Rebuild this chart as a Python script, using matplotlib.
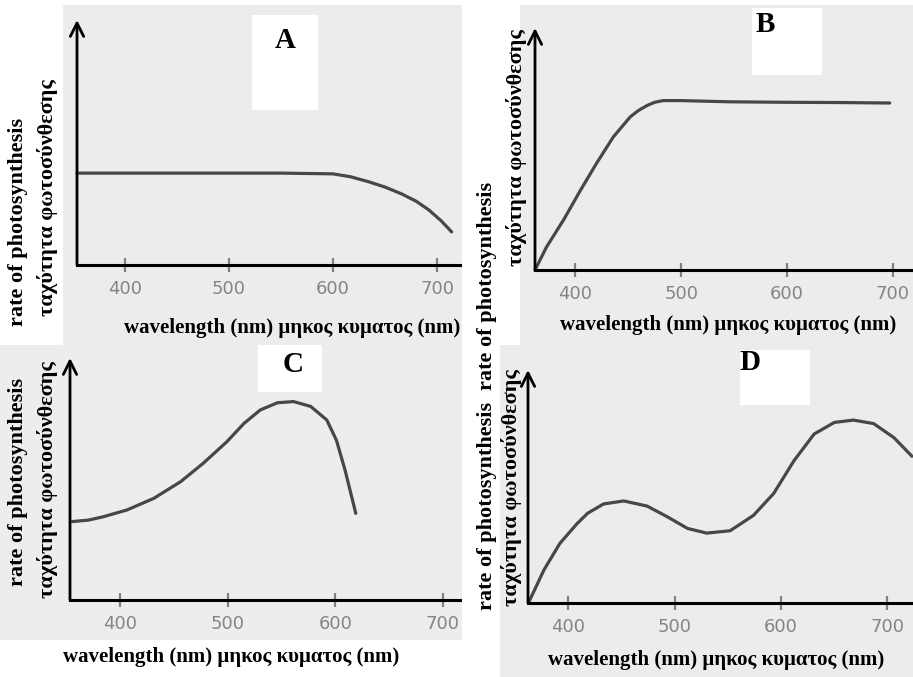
import matplotlib
matplotlib.use("Agg")
from matplotlib import pyplot as plt
from matplotlib.patches import Rectangle

# wavelengths (nm) and relative rate of photosynthesis
wl_a = [354, 400, 450, 500, 550, 600, 617, 634, 650, 666, 680, 692, 704, 714]
rate_a = [0.375, 0.375, 0.375, 0.375, 0.375, 0.372, 0.36, 0.34, 0.318, 0.29, 0.26, 0.225, 0.18, 0.135]

wl_b = [362, 373, 389, 405, 420, 436, 452, 460, 468, 475, 483, 500, 546, 600, 650, 697]
rate_b = [0.0, 0.096, 0.207, 0.33, 0.44, 0.55, 0.633, 0.66, 0.68, 0.693, 0.70, 0.70, 0.695, 0.693, 0.692, 0.69]

wl_c = [355, 370, 384, 406, 431, 456, 477, 499, 515, 530, 546, 561, 577, 592, 601, 609, 619]
rate_c = [0.324, 0.33, 0.344, 0.372, 0.42, 0.489, 0.565, 0.654, 0.73, 0.785, 0.815, 0.82, 0.80, 0.744,
          0.66, 0.537, 0.358]

wl_d = [363, 377, 392, 408, 418, 433, 452, 474, 493, 512, 530, 552, 574, 593, 612, 631, 650, 668, 687,
        706, 723]
rate_d = [0.006, 0.142, 0.256, 0.34, 0.385, 0.425, 0.438, 0.416, 0.37, 0.32, 0.30, 0.31, 0.376, 0.47,
          0.61, 0.725, 0.775, 0.785, 0.77, 0.71, 0.63]

ticks = [400, 500, 600, 700]
panel_names = ["A", "B", "C", "D"]
xlabel = "wavelength (nm) μηκος κυματος (nm)"
ylabel_en = "rate of photosynthesis"
ylabel_gr = "ταχύτητα φωτοσύνθεσης"

W, H = 913, 677
fig = plt.figure(figsize=(W / 100, H / 100), dpi=100)
fig.patch.set_facecolor("white")

def fx(px):
    return px / W

def fy(py):
    return 1 - py / H

# grey scanned backgrounds + white blotches
for (x0, y0, x1, y1, c) in [(63, 5, 462, 345, "#ececec"), (520, 5, 913, 345, "#ececec"),
                            (0, 345, 462, 640, "#ededed"), (500, 345, 913, 677, "#ececec"),
                            (252, 15, 318, 110, "white"), (752, 8, 822, 75, "white"),
                            (258, 345, 322, 392, "white"), (740, 350, 810, 405, "white")]:
    fig.patches.append(Rectangle((fx(x0), fy(y1)), fx(x1) - fx(x0), fy(y0) - fy(y1),
                                 transform=fig.transFigure, facecolor=c, edgecolor="none", zorder=-10))

# axes boxes in pixels: left, right, top, bottom, xlim
boxes = [(77, 460, 20, 265, (354, 722)),
         (535, 913, 28, 270, (362, 719)),
         (70, 460, 358, 600, (353, 716)),
         (528, 913, 370, 603, (362, 724))]
series = [(wl_a, rate_a), (wl_b, rate_b), (wl_c, rate_c), (wl_d, rate_d)]

serif = "Liberation Serif"
for (l, r, t, b, xl), (wl, rate) in zip(boxes, series):
    ax = fig.add_axes([fx(l), fy(b), fx(r) - fx(l), fy(t) - fy(b)])
    ax.set_zorder(5)
    ax.patch.set_alpha(0)
    ax.plot(wl, rate, color="#474747", lw=2.3, solid_capstyle="round", solid_joinstyle="round",
            clip_on=False)
    ax.set_xlim(*xl)
    ax.set_ylim(0, 1)
    for s in ["top", "right", "left"]:
        ax.spines[s].set_visible(False)
    ax.spines["bottom"].set_linewidth(2.2)
    ax.set_yticks([])
    ax.set_xticks(ticks)
    ax.tick_params(axis="x", direction="inout", length=10, width=1.6, color="#808080",
                   labelcolor="#858585", labelsize=13, pad=6)
    ax.annotate("", xy=(0, 1.0), xytext=(0, 0), xycoords="axes fraction",
                arrowprops=dict(arrowstyle="->", lw=2.0, color="black", mutation_scale=24,
                                shrinkA=0, shrinkB=0))

# panel letters
for name, (x, y) in zip(panel_names, [(285, 40), (765, 25), (293, 365), (750, 362)]):
    fig.text(fx(x), fy(y), name, fontsize=21, fontweight="bold", family=serif,
             ha="center", va="center")

# x labels
for (x, y) in [(292, 328), (728, 325), (231, 657), (716, 660)]:
    fig.text(fx(x), fy(y), xlabel, fontsize=15, fontweight="bold", family=serif,
             ha="center", va="center")

# y labels (english, greek)
for (x, y) in [(18, 222), (487, 286), (18, 482), (487, 506)]:
    fig.text(fx(x), fy(y), ylabel_en, fontsize=16, fontweight="bold", family=serif,
             rotation=90, ha="center", va="center")
for (x, y) in [(48, 198), (516, 148), (48, 480), (512, 488)]:
    fig.text(fx(x), fy(y), ylabel_gr, fontsize=16, fontweight="bold", family=serif,
             rotation=90, ha="center", va="center")

fig.savefig("out.png", dpi=100)
